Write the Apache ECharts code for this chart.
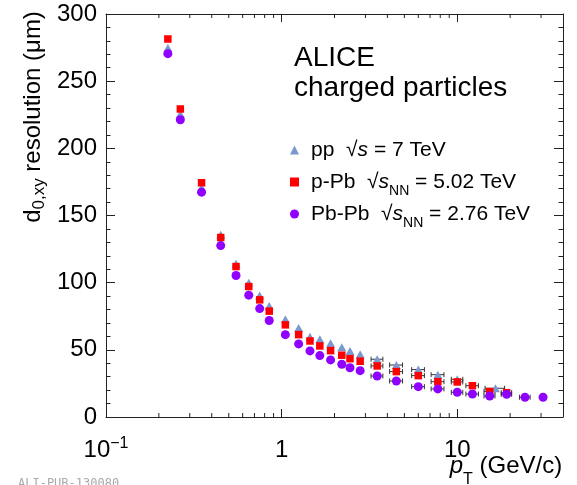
<!DOCTYPE html>
<html><head><meta charset="utf-8">
<script src="https://cdn.jsdelivr.net/npm/echarts@6/dist/echarts.min.js"></script>
<style>html,body{margin:0;padding:0;background:#fff}.c{position:absolute;left:0;top:0;width:577px;height:485px}</style>
</head><body><div id="c" class="c"></div>
<script>
// ---- data ----
const ppName = 'pp √s = 7 TeV';
const pPbName = 'p-Pb √sNN = 5.02 TeV';
const PbPbName = 'Pb-Pb √sNN = 2.76 TeV';

const ppPt   = [0.225,0.265,0.35,0.45,0.55,0.65,0.75,0.85,1.05,1.25,1.45,1.65,1.9,2.2,2.45,2.8,3.5,4.5,6,7.75,10,16.5];
const ppRes  = [274.7,225.5,170.9,135.6,114,100,90.4,82.7,72.8,66.3,59.8,57.9,54.9,51.9,49.2,46.7,43,38.7,35.3,31.5,28.1,21.4];
const ppErr  = [0,0,0,0,0,0,0,0,0,0,0,0,0,0,0,0,0.27,0.38,0.5,0.65,0.75,2.1];

const pPbPt  = [0.225,0.265,0.35,0.45,0.55,0.65,0.75,0.85,1.05,1.25,1.45,1.65,1.9,2.2,2.45,2.8,3.5,4.5,6,7.75,10,12.2,15.3,19.1];
const pPbRes = [281.4,229.3,174.4,133.6,112,97.1,87.2,78.8,68.6,61.3,56.6,52.9,49.4,46,43.4,41.5,38,33.8,30.8,26.3,26.1,23.3,18.9,18.1];
const pPbErr = [0,0,0,0,0,0,0,0,0,0,0,0,0,0,0,0,0.27,0.38,0.5,0.65,0.75,1.0,1.1,1.3];

const PbPbPt  = [0.225,0.265,0.35,0.45,0.55,0.65,0.75,0.85,1.05,1.25,1.45,1.65,1.9,2.2,2.45,2.8,3.5,4.5,6,7.75,10,12.2,15.3,19.1,24.3,30.8];
const PbPbRes = [270.5,221.3,167.4,127.6,105.3,90.7,80.7,71.8,61.3,54.4,49.2,45.7,42.5,39.3,36.7,34.5,30.5,26.8,22.6,20.9,18.4,17.1,15.6,16.9,14.7,14.7];
const PbPbErr = [0,0,0,0,0,0,0,0,0,0,0,0,0,0,0,0,0.27,0.38,0.5,0.65,0.75,1.0,1.1,1.3,1.7,0];

const xMinorTicks = [0.2,0.3,0.4,0.5,0.6,0.7,0.8,0.9,2,3,4,5,6,7,8,9,20,30];
const xMin = 0.1, xMax = 40;
const yMin = 0, yMax = 300, yStep = 50;

// ---- chart ----
const FONT = '"Liberation Sans", Arial, sans-serif';
const AX = '#222';

function zip(xs, ys) { return xs.map((x, i) => [x, ys[i]]); }
function errData(xs, ys, es) {
  const out = [];
  xs.forEach((x, i) => { if (es[i] > 0) out.push([x, ys[i], es[i]]); });
  return out;
}
function errSeries(id, xs, ys, es) {
  return {
    type: 'custom', id: id, name: id, silent: true, z: 2,
    data: errData(xs, ys, es),
    renderItem: function (params, api) {
      const x = api.value(0), y = api.value(1), e = api.value(2);
      const lo = api.coord([x - e, y]);
      const hi = api.coord([x + e, y]);
      const st = { stroke: '#333', lineWidth: 1 };
      return { type: 'group', children: [
        { type: 'line', shape: { x1: lo[0], y1: lo[1], x2: hi[0], y2: hi[1] }, style: st },
        { type: 'line', shape: { x1: lo[0], y1: lo[1] - 2.5, x2: lo[0], y2: lo[1] + 2.5 }, style: st },
        { type: 'line', shape: { x1: hi[0], y1: hi[1] - 2.5, x2: hi[0], y2: hi[1] + 2.5 }, style: st }
      ]};
    }
  };
}

const xBase = { type: 'log', min: xMin, max: xMax, gridIndex: 0, splitLine: { show: false } };
const yBase = { type: 'value', min: yMin, max: yMax, interval: yStep, gridIndex: 0, splitLine: { show: false } };

const legendLabels = {};
legendLabels[ppName] = 'pp  √{i|s} = 7 TeV{sub| }';
legendLabels[pPbName] = 'p-Pb  √{i|s}{sub|NN} = 5.02 TeV';
legendLabels[PbPbName] = 'Pb-Pb  √{i|s}{sub|NN} = 2.76 TeV';

const option = {
  animation: false,
  textStyle: { fontFamily: FONT },
  backgroundColor: '#fff',
  grid: { left: 106, right: 14, top: 14, bottom: 68, outerBoundsMode: 'none' },
  title: {
    text: 'ALICE\ncharged particles', left: 294, top: 43, padding: 0,
    textStyle: { fontSize: 28, fontWeight: 'normal', color: '#000', lineHeight: 30 }
  },
  graphic: [
    { type: 'text', left: 18, top: 478, style: { text: 'ALI-PUB-130080', font: '12px monospace', fill: '#aaa' } }
  ],
  legend: {
    orient: 'vertical', left: 290, top: 134, padding: 0, itemWidth: 9, itemHeight: 9, itemGap: 0,
    data: [{ name: ppName, icon: 'triangle' }, { name: pPbName, icon: 'rect' }, { name: PbPbName, icon: 'circle' }],
    formatter: function (n) { return legendLabels[n]; },
    textStyle: {
      fontSize: 21, color: '#000', lineHeight: 24, padding: [0, 0, 0, 7],
      rich: {
        i: { fontStyle: 'italic', fontSize: 21, lineHeight: 24, color: '#000' },
        sub: { fontSize: 14, lineHeight: 24, color: '#000', padding: [18, 0, 0, 0] }
      }
    }
  },
  xAxis: [
    Object.assign({}, xBase, {
      position: 'bottom',
      axisLine: { show: true, onZero: false, lineStyle: { color: AX } },
      axisTick: { show: true, inside: true, length: 8 },
      axisLabel: {
        margin: 21, color: '#000', fontSize: 24, lineHeight: 24, showMaxLabel: false,
        formatter: function (v) {
          const r = Math.round(Math.log10(v));
          return r < 0 ? '10{sup|−' + (-r) + '}' : String(Math.round(v));
        },
        rich: { sup: { fontSize: 16, lineHeight: 24, color: '#000', padding: [0, 0, 12, 0] } }
      },
      name: '{p|p}{sub|T} (GeV/c)', nameLocation: 'middle', nameGap: 37, nameMoveOverlap: false,
      nameTextStyle: {
        fontSize: 24, lineHeight: 24, color: '#000', padding: [0, 0, 0, 343],
        rich: {
          p: { fontStyle: 'italic', fontSize: 24, color: '#000' },
          sub: { fontSize: 16, lineHeight: 24, color: '#000', padding: [28, 0, 0, 0] }
        }
      }
    }),
    Object.assign({}, xBase, {
      position: 'top',
      axisLine: { show: true, onZero: false, lineStyle: { color: AX } },
      axisTick: { show: true, inside: true, length: 8 },
      axisLabel: { show: false }
    })
  ],
  yAxis: [
    Object.assign({}, yBase, {
      position: 'left',
      axisLine: { show: true, onZero: false, lineStyle: { color: AX } },
      axisTick: { show: true, inside: true, length: 9 },
      minorTick: { show: true, splitNumber: 5, length: 4.5 },
      axisLabel: { margin: 9, color: '#000', fontSize: 24 },
      name: 'd{sub|0,xy} resolution (μm)', nameLocation: 'middle', nameRotate: 90, nameGap: 60, nameMoveOverlap: false,
      nameTextStyle: {
        fontSize: 24, lineHeight: 26, color: '#000', padding: [0, 0, 0, 197],
        rich: { sub: { fontSize: 17, lineHeight: 26, color: '#000', padding: [13, 0, 0, 0] } }
      }
    }),
    Object.assign({}, yBase, {
      position: 'right',
      axisLine: { show: true, onZero: false, lineStyle: { color: AX } },
      axisTick: { show: true, inside: true, length: 9 },
      minorTick: { show: true, splitNumber: 5, length: 4.5 },
      axisLabel: { show: false }
    })
  ],
  series: [
    { type: 'custom', id: 'mt', name: 'mt', silent: true, z: 6, clip: false,
      data: xMinorTicks.map(v => [v, yMin]),
      renderItem: function (p, api) {
        const b = api.coord([api.value(0), yMin]), t = api.coord([api.value(0), yMax]);
        return { type: 'group', children: [
          { type: 'line', shape: { x1: b[0], y1: b[1], x2: b[0], y2: b[1] - 4 }, style: { stroke: AX, lineWidth: 1 } },
          { type: 'line', shape: { x1: t[0], y1: t[1], x2: t[0], y2: t[1] + 4 }, style: { stroke: AX, lineWidth: 1 } }
        ]};
      }
    },
    errSeries('err-pp', ppPt, ppRes, ppErr),
    errSeries('err-pPb', pPbPt, pPbRes, pPbErr),
    errSeries('err-PbPb', PbPbPt, PbPbRes, PbPbErr),
    { type: 'scatter', name: ppName, z: 3, symbol: 'triangle', symbolSize: [9, 8],
      itemStyle: { color: '#7b98cf', opacity: 1 }, data: zip(ppPt, ppRes) },
    { type: 'scatter', name: pPbName, z: 4, symbol: 'rect', symbolSize: 7.5,
      itemStyle: { color: '#ff0000', opacity: 1 }, data: zip(pPbPt, pPbRes) },
    { type: 'scatter', name: PbPbName, z: 5, symbol: 'circle', symbolSize: 9,
      itemStyle: { color: '#8f00ff', opacity: 1 }, data: zip(PbPbPt, PbPbRes) }
  ]
};

echarts.init(document.getElementById('c')).setOption(option);
</script>
</body></html>
